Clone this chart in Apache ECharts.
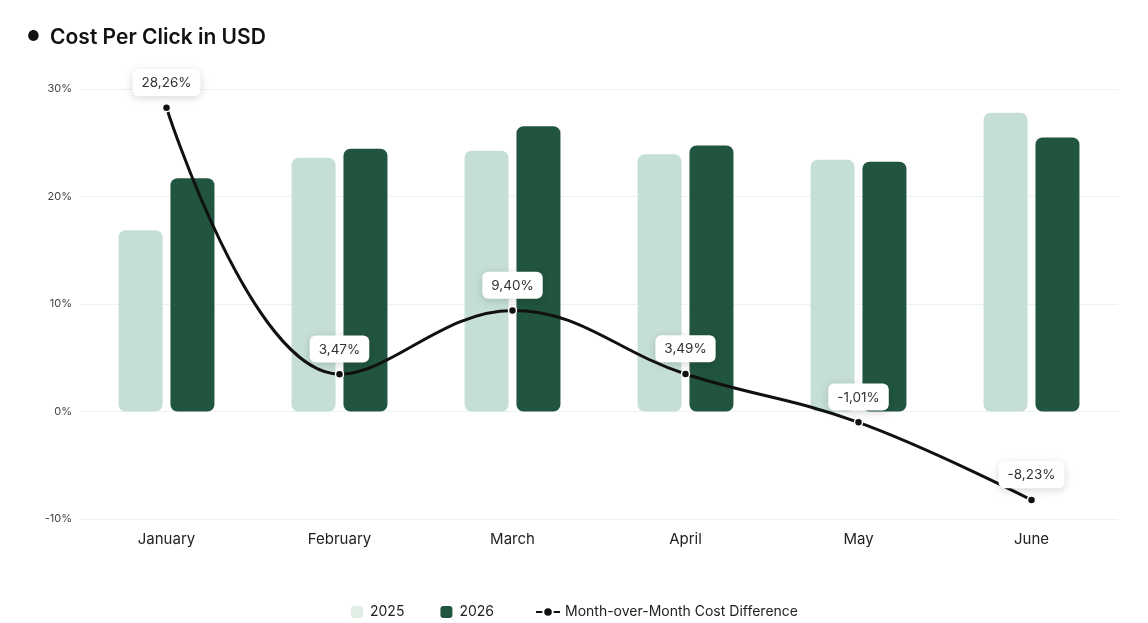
<!DOCTYPE html>
<html>
<head>
<meta charset="utf-8">
<script src="https://cdn.jsdelivr.net/npm/echarts@6/dist/echarts.min.js"></script>
<style>
html,body{margin:0;padding:0;background:#fff;}
#chart{width:1148px;height:623px;}
</style>
</head>
<body>
<div id="chart"></div>
<script>
const categories = ['January','February','March','April','May','June'];
const cpc2025 = [16.86, 23.6, 24.25, 23.92, 23.41, 27.79];
const cpc2026 = [21.7, 24.44, 26.53, 24.75, 23.23, 25.5];
const momDiff = [28.26, 3.47, 9.40, 3.49, -1.01, -8.23];
const yTicks = [-10, 0, 10, 20, 30];

const FONT = 'Inter, "Noto Sans", sans-serif';
const chart = echarts.init(document.getElementById('chart'));
chart.setOption({
  animation: false,
  backgroundColor: '#fff',
  title: {
    text: '{dot|●} Cost Per Click in USD',
    left: 22, top: 22,
    textStyle: {
      fontFamily: FONT, fontSize: 21, fontWeight: 600, color: '#111',
      rich: { dot: { fontSize: 14, color: '#111', padding: [0, 5, 2, 0] } }
    }
  },
  grid: { left: 80, right: 30, top: 89, bottom: 104 },
  legend: [
    {
      data: [
        { name: '2025', itemStyle: { color: '#e1eee5' } },
        { name: '2026', itemStyle: { color: '#21553f' } }
      ],
      icon: 'roundRect',
      itemWidth: 12, itemHeight: 12,
      itemGap: 36,
      left: 346, top: 600,
      textStyle: { fontFamily: FONT, fontSize: 14, color: '#222', padding: [0, 0, 0, 2] }
    },
    {
      data: ['Month-over-Month Cost Difference'],
      itemWidth: 24, itemHeight: 12,
      left: 530, top: 600,
      textStyle: { fontFamily: FONT, fontSize: 14, color: '#222' }
    }
  ],
  xAxis: {
    type: 'category',
    data: categories,
    axisLine: { show: false },
    axisTick: { show: false },
    axisLabel: { fontFamily: FONT, fontSize: 15, color: '#222', margin: 13 }
  },
  yAxis: {
    type: 'value',
    min: yTicks[0], max: yTicks[yTicks.length - 1], interval: 10,
    axisLine: { show: false },
    axisTick: { show: false },
    splitLine: { lineStyle: { color: '#edf4ef', width: 1 } },
    axisLabel: { fontFamily: FONT, fontSize: 11, color: '#444', margin: 8,
      formatter: v => v + '%' }
  },
  series: [
    {
      name: '2025', type: 'bar', data: cpc2025,
      barWidth: 44, barGap: '18%',
      itemStyle: { color: '#c5dfd6', borderRadius: 7 }
    },
    {
      name: '2026', type: 'bar', data: cpc2026,
      barWidth: 44,
      itemStyle: { color: '#21553f', borderRadius: 7 }
    },
    {
      name: 'Month-over-Month Cost Difference', type: 'line', data: momDiff,
      smooth: 0.4,
      z: 5,
      symbol: 'circle', symbolSize: 8,
      lineStyle: { color: '#111', width: 3 },
      itemStyle: { color: '#111', borderColor: '#fff', borderWidth: 1.5 },
      label: {
        show: true, position: 'top', distance: 7,
        formatter: p => p.value.toFixed(2).replace('.', ',') + '%',
        fontFamily: FONT, fontSize: 13.5, color: '#333',
        backgroundColor: '#fff', borderRadius: 6,
        padding: [7, 9, 6, 9],
        shadowColor: 'rgba(0,0,0,0.16)', shadowBlur: 8, shadowOffsetY: 2
      }
    }
  ]
});
</script>
</body>
</html>
